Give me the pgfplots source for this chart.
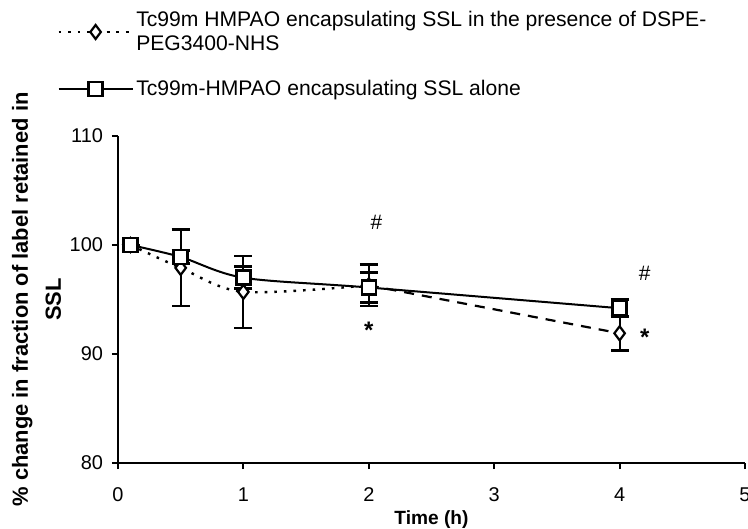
\documentclass[border=0pt]{standalone}
\usepackage{fontspec}
\setmainfont{Liberation Sans}
\usepackage{pgfplots}
\usepackage{pgfplotstable}
\pgfplotsset{compat=1.18}

% SSL alone (squares)
\pgfplotstableread{
x   y     e
0.1 100.0 0
0.5 98.9  0.6
1   97.0  1.0
2   96.1  1.4
4   94.2  0.8
}\alone
% with DSPE-PEG3400-NHS (diamonds), dotted part
\pgfplotstableread{
x   y     e
0.1 100.0 0
0.5 97.9  3.5
1   95.7  3.3
2   96.3  1.9
}\pegA
% dashed part
\pgfplotstableread{
x   y     e
2   96.3  1.9
4   91.9  1.6
}\pegB

\begin{document}
\begin{tikzpicture}
\begin{axis}[
    name=ax,
    scale only axis,
    width=313.5bp, height=163.5bp,
    xmin=0, xmax=5, ymin=80, ymax=110,
    xtick={0,...,5}, ytick={80,90,100,110},
    axis x line=bottom, axis y line=left,
    axis line style={-, line width=1bp},
    tick style={line width=1bp, black},
    major tick length=3bp, tick align=outside,
    /pgf/number format/assume math mode=true,
    tick label style={font=\fontsize{10}{12}\selectfont},
    xticklabel style={yshift=-6bp},
    yticklabel style={xshift=-1bp},
    xlabel={Time (h)},
    xlabel style={at={(axis description cs:0.5,0)}, anchor=center, yshift=-28.5bp,
        font=\fontsize{9.6}{11}\selectfont\bfseries},
    ylabel={\% change in fraction of label retained in\\SSL},
    ylabel style={at={(axis description cs:-0.13,0.5)}, anchor=center,
        align=center, font=\fontsize{11}{16.5}\selectfont\bfseries},
    clip=false,
    legend image code/.code={
        \draw[mark repeat=2,mark phase=2,#1] plot coordinates {(0bp,0bp) (18.5bp,0bp) (37bp,0bp)};},
    legend style={at={(axis description cs:0,1)}, anchor=north west,
        xshift=-30.5bp, yshift=64bp, draw=none, fill=none, inner sep=0pt,
        nodes={inner sep=1.25bp},
        font=\fontsize{10.6}{12}\selectfont,
        cells={align=left, anchor=west}, row sep=11bp},
    legend cell align=left,
    error bars/error bar style={solid, line width=1bp},
    error bars/error mark options={solid, rotate=90, mark size=4.5bp, line width=1.3bp},
]
\addplot[black, line width=1.2bp, dash pattern=on 1.3bp off 3.5bp, smooth, tension=0.5,
    mark=diamond*, mark size=3.5bp, mark options={solid, fill=white, line width=1.1bp},
    error bars/.cd, y dir=both, y explicit]
    table[x=x, y=y, y error=e] {\pegA};
\addlegendentry{Tc99m HMPAO encapsulating SSL in the presence of DSPE-\\PEG3400-NHS}
\addplot[black, line width=1.1bp, dash pattern=on 5bp off 4bp, forget plot,
    mark=diamond*, mark indices={2}, mark size=3.5bp, mark options={solid, fill=white, line width=1.1bp},
    error bars/.cd, y dir=both, y explicit]
    table[x=x, y=y, y error=e] {\pegB};
\addplot[black, line width=1bp, smooth, tension=0.5,
    mark=square*, mark size=3.5bp, mark options={solid, fill=white, line width=1.2bp},
    error bars/.cd, y dir=both, y explicit]
    table[x=x, y=y, y error=e] {\alone};
\addlegendentry{Tc99m-HMPAO encapsulating SSL alone}
\node[font=\fontsize{10.5}{12}\selectfont] at (axis cs:2.06,102.1) {\#};
\node[font=\fontsize{10.5}{12}\selectfont] at (axis cs:4.2,97.4) {\#};
\node[font=\fontsize{12}{12}\selectfont\bfseries] at (axis cs:2.0,92.2) {*};
\node[font=\fontsize{12}{12}\selectfont\bfseries] at (axis cs:4.2,91.5) {*};
\end{axis}
\pgfresetboundingbox
\path ([shift={(-59bp,-33bp)}]ax.south west) rectangle ([shift={(1.5bp,68bp)}]ax.north east);
\end{tikzpicture}
\end{document}
